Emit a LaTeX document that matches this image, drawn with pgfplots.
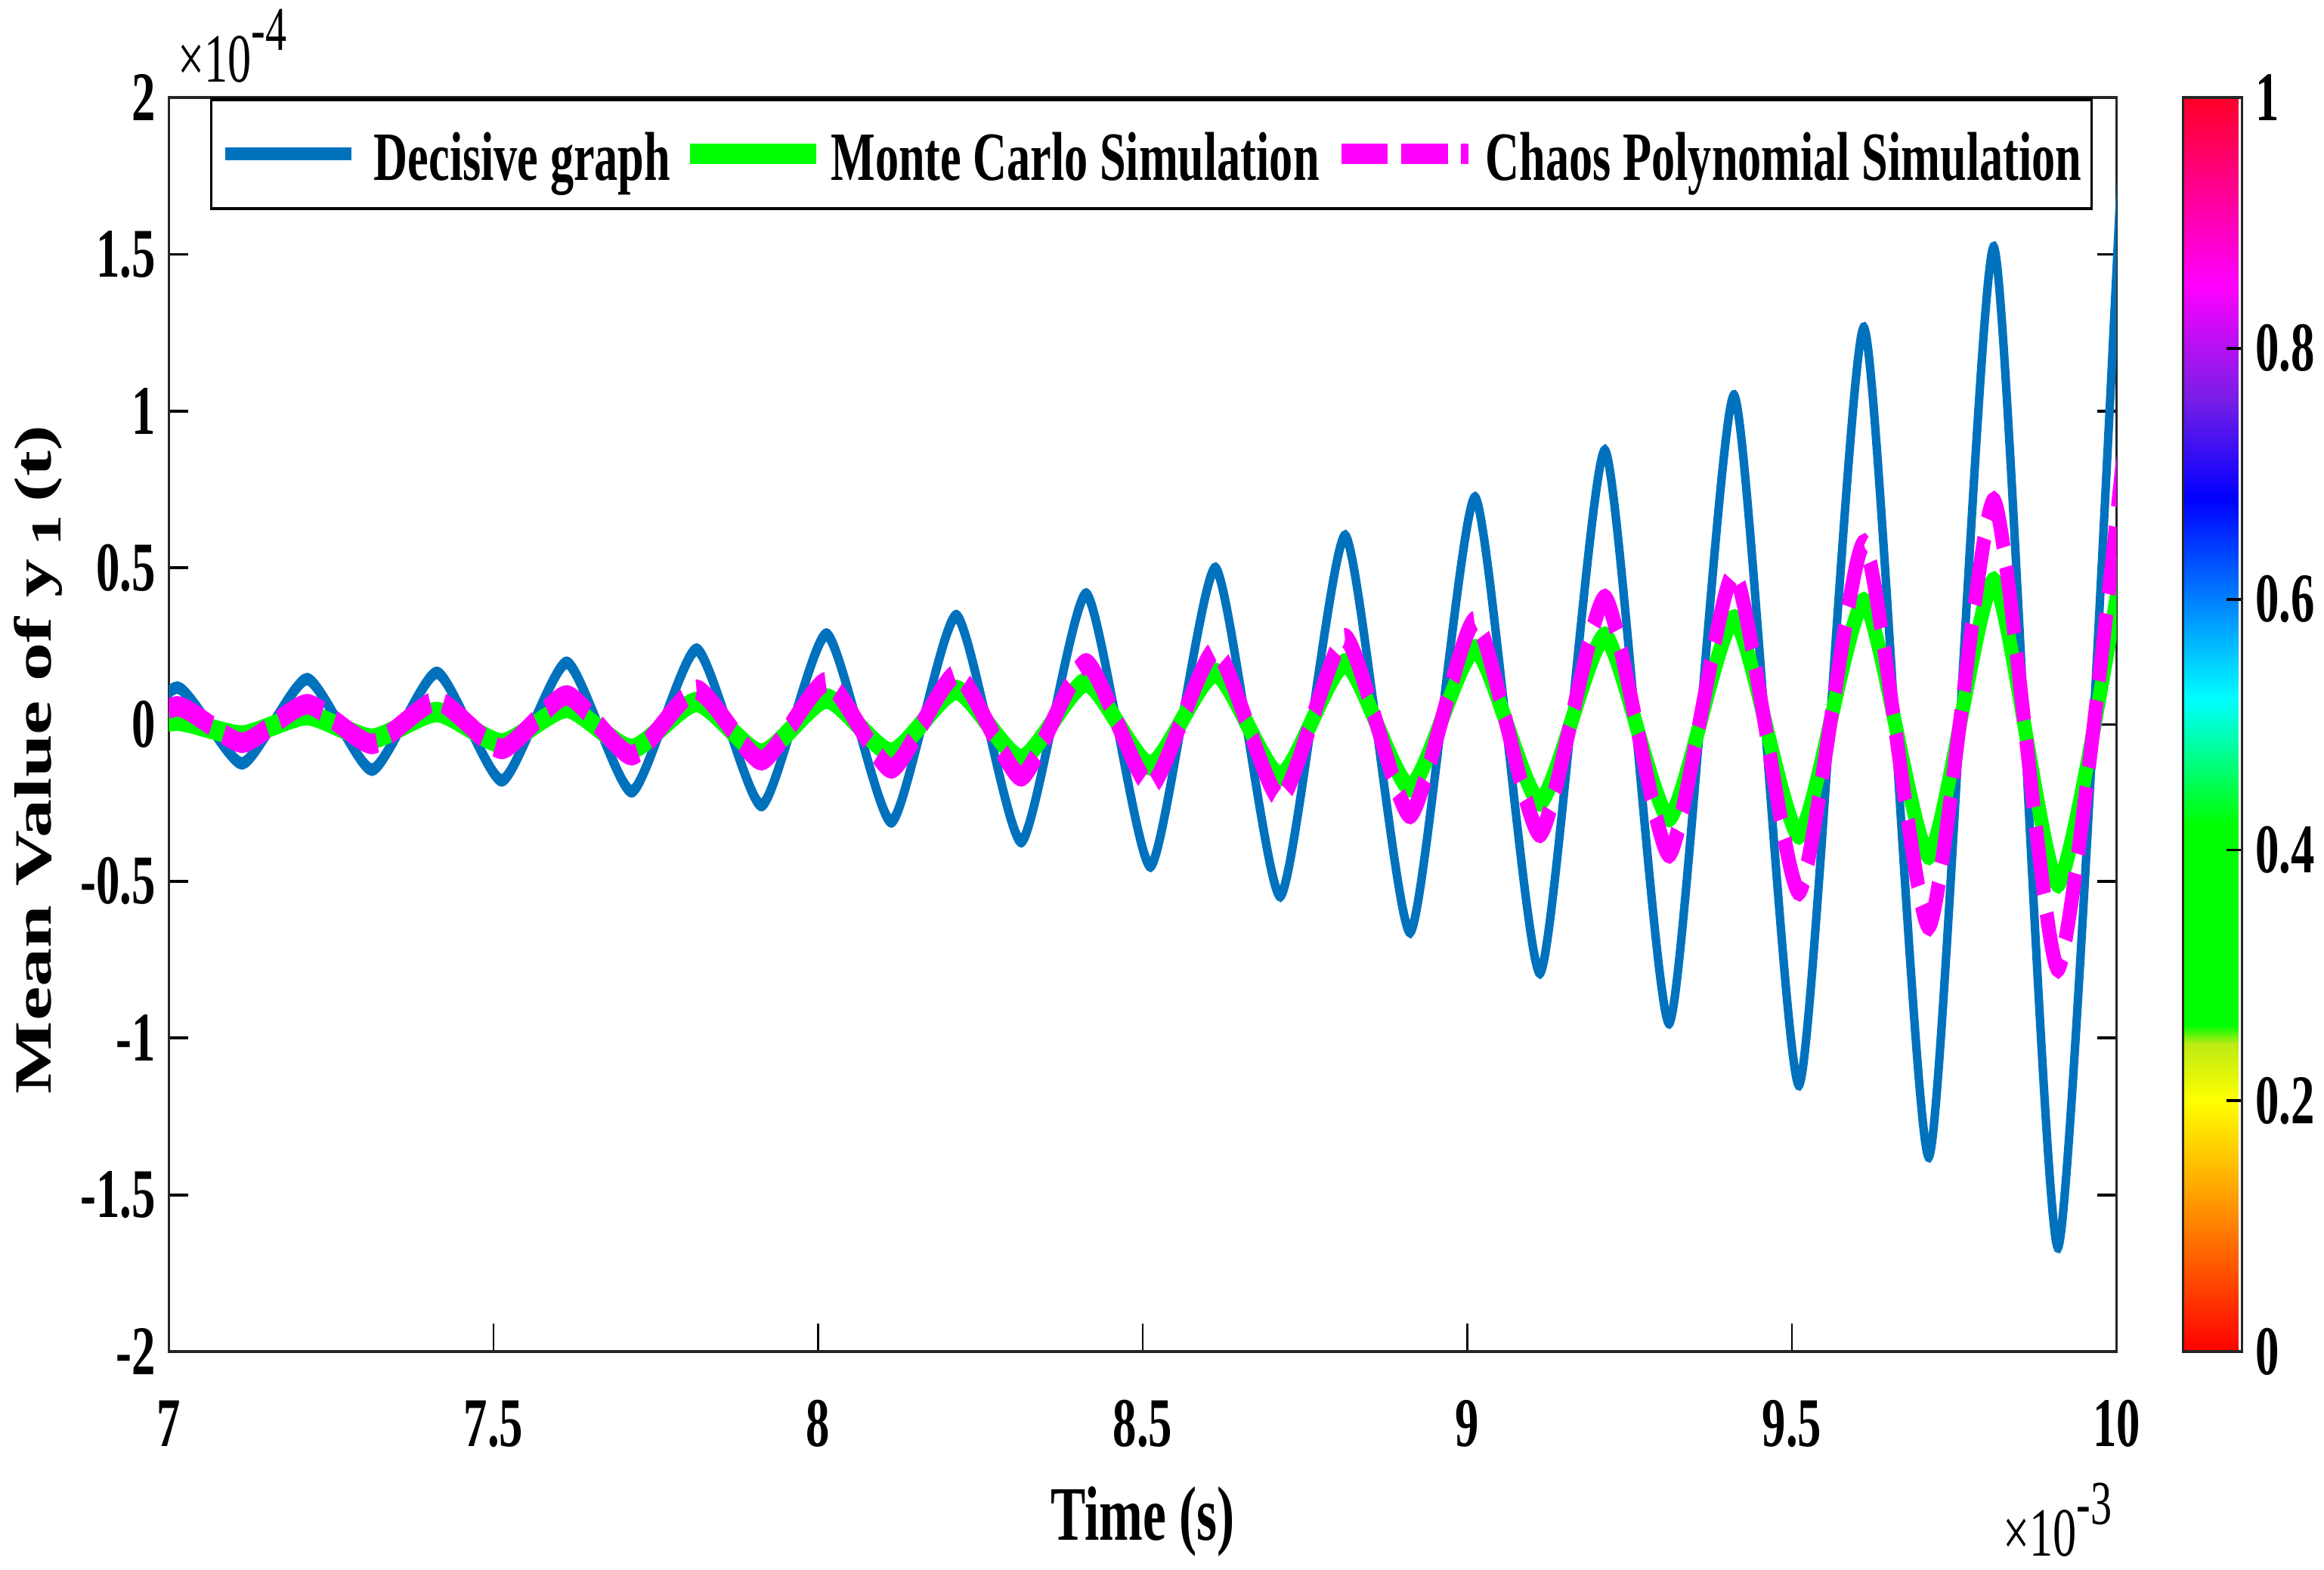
\documentclass[border=0pt]{standalone}
\usepackage{fontspec}
\setmainfont{Liberation Serif}
\usepackage{graphicx}
\usepackage{pgfplots}
\pgfplotsset{compat=1.18}
\definecolor{mblue}{RGB}{0,114,189}
\definecolor{mgreen}{RGB}{0,255,0}
\definecolor{mmag}{RGB}{255,0,255}
\pgfplotsset{colormap={cbmap}{rgb255(0cm)=(255,0,0) rgb255(1cm)=(255,128,0) rgb255(2cm)=(255,255,0) rgb255(2.45cm)=(190,235,20) rgb255(2.6cm)=(0,255,0) rgb255(4.2cm)=(0,255,0) rgb255(5.2cm)=(0,255,255) rgb255(6.8cm)=(0,0,255) rgb255(7.6cm)=(120,30,230) rgb255(8.5cm)=(255,0,255) rgb255(10cm)=(255,0,40)}}
\begin{document}
\begin{tikzpicture}
\begin{scope}[transform canvas={xscale=0.68}]
\begin{axis}[
  at={(0pt,0pt)}, anchor=south west,
  scale only axis, width=505.3pt, height=221.2pt,
  clip mode=individual,
  xmin=7, xmax=10, ymin=-2, ymax=2,
  xtick={7,7.5,8,8.5,9,9.5,10}, xticklabels={7,7.5,8,8.5,9,9.5,10},
  ytick={-2,-1.5,-1,-0.5,0,0.5,1,1.5,2}, yticklabels={-2,-1.5,-1,-0.5,0,0.5,1,1.5,2},
  tick align=inside, major tick length=5pt,
  tick style={black, line width=0.5pt},
  axis line style={black!85, line width=0.6pt},
  ticklabel style={font=\fontsize{12.3}{14}\selectfont\bfseries},
  xticklabel style={anchor=base, yshift=-16.7pt},
  xlabel={Time (s)},
  xlabel style={at={(axis description cs:0.5,0)}, anchor=base, yshift=-33.3pt, font=\fontsize{13.6}{16}\selectfont\bfseries},
  ylabel={Mean Value of y\,\raisebox{-2.5pt}{\fontsize{11}{13}\selectfont 1}\,(t)},
  ylabel style={at={(axis description cs:-0.0604,0.472)}, anchor=base, font=\fontsize{13.6}{16}\selectfont\bfseries},
  colormap name=cbmap,
  colorbar, point meta min=0, point meta max=1,
  colorbar style={
    at={(parent axis.north east)}, anchor=north west, xshift=8.8pt,
    scale only axis, width=15.2pt, height=221.2pt,
    ytick={0,0.2,0.4,0.6,0.8,1}, yticklabels={0,0.2,0.4,0.6,0.8,1},
    yticklabel pos=right, ytick pos=right,
    tick align=inside, major tick length=4pt,
    tick style={black, line width=0.5pt},
    axis line style={black!85, line width=0.6pt},
    yticklabel style={font=\fontsize{12.3}{14}\selectfont\bfseries},
  },
  legend columns=-1,
  legend cell align=left,
  legend image code/.code={\draw[#1] (0pt,0pt) -- (32.8pt,0pt);},
  legend style={
    at={(axis description cs:0.0212,1)}, anchor=north west,
    draw=black, line width=0.6pt, fill=white,
    inner xsep=2.5pt, inner ysep=0pt,
    font=\fontsize{12.2}{14}\selectfont\bfseries,
    nodes={inner sep=0pt, text height=14.3pt, text depth=5pt},
    /tikz/column 1/.style={column sep=4.7pt},
    /tikz/column 2/.style={column sep=3.2pt},
    /tikz/column 3/.style={column sep=2.0pt},
    /tikz/column 4/.style={column sep=4.0pt},
    /tikz/column 5/.style={column sep=2.8pt},
    /tikz/column 6/.style={column sep=0pt},
  },
]
\addplot[mblue, line width=2.2pt, smooth, tension=0.36] coordinates {
(6.913,-0.105) (7.013,0.118) (7.113,-0.124) (7.213,0.145) (7.313,-0.144)
(7.413,0.165) (7.513,-0.178) (7.613,0.197) (7.713,-0.213) (7.813,0.239)
(7.913,-0.257) (8.013,0.287) (8.113,-0.309) (8.213,0.346) (8.313,-0.372)
(8.413,0.415) (8.512,-0.450) (8.612,0.497) (8.712,-0.545) (8.812,0.600)
(8.912,-0.660) (9.012,0.722) (9.112,-0.790) (9.212,0.872) (9.311,-0.950)
(9.411,1.047) (9.511,-1.147) (9.611,1.263) (9.711,-1.376) (9.811,1.520)
(9.910,-1.665) (10.010,1.880)
};
\addlegendentry{Decisive graph}
\addplot[mgreen, line width=3.6pt, smooth, tension=0.36] coordinates {
(6.913,-0.025) (7.013,0.012) (7.113,-0.035) (7.213,0.030) (7.313,-0.045)
(7.413,0.040) (7.513,-0.060) (7.613,0.053) (7.713,-0.078) (7.813,0.072)
(7.913,-0.093) (8.013,0.083) (8.113,-0.090) (8.213,0.110) (8.313,-0.110)
(8.413,0.135) (8.512,-0.130) (8.612,0.165) (8.712,-0.165) (8.812,0.195)
(8.912,-0.200) (9.012,0.240) (9.112,-0.245) (9.212,0.280) (9.311,-0.295)
(9.411,0.335) (9.511,-0.350) (9.611,0.390) (9.711,-0.415) (9.811,0.455)
(9.910,-0.505) (10.010,0.530)
};
\addlegendentry{Monte Carlo Simulation}
\addplot[mmag, line width=3.6pt, dash pattern=on 12pt off 3.5pt, smooth, tension=0.36] coordinates {
(6.913,-0.052) (7.013,0.058) (7.113,-0.058) (7.213,0.065) (7.313,-0.062)
(7.413,0.076) (7.513,-0.078) (7.613,0.093) (7.713,-0.098) (7.813,0.111)
(7.913,-0.114) (8.013,0.136) (8.113,-0.140) (8.213,0.160) (8.313,-0.165)
(8.413,0.195) (8.512,-0.195) (8.612,0.235) (8.712,-0.235) (8.812,0.275)
(8.912,-0.285) (9.012,0.330) (9.112,-0.345) (9.212,0.400) (9.311,-0.410)
(9.411,0.480) (9.511,-0.530) (9.611,0.575) (9.711,-0.640) (9.811,0.710)
(9.910,-0.775) (10.010,0.850)
};
\addlegendentry{Chaos Polynomial Simulation}
\node[anchor=base west, inner sep=0pt] at (axis description cs:0.0042,1.0122) {\fontsize{12.2}{14}\selectfont ×10\raisebox{5.6pt}{\fontsize{11}{13}\selectfont -4}};
\node[anchor=base east, inner sep=0pt] at (axis description cs:0.998,-0.1632) {\fontsize{12.2}{14}\selectfont ×10\raisebox{5.6pt}{\fontsize{11}{13}\selectfont -3}};
\end{axis}
\end{scope}
\pgfresetboundingbox
\useasboundingbox (-29.8pt,-38.4pt) rectangle (380.2pt,238.4pt);
\end{tikzpicture}
\end{document}
